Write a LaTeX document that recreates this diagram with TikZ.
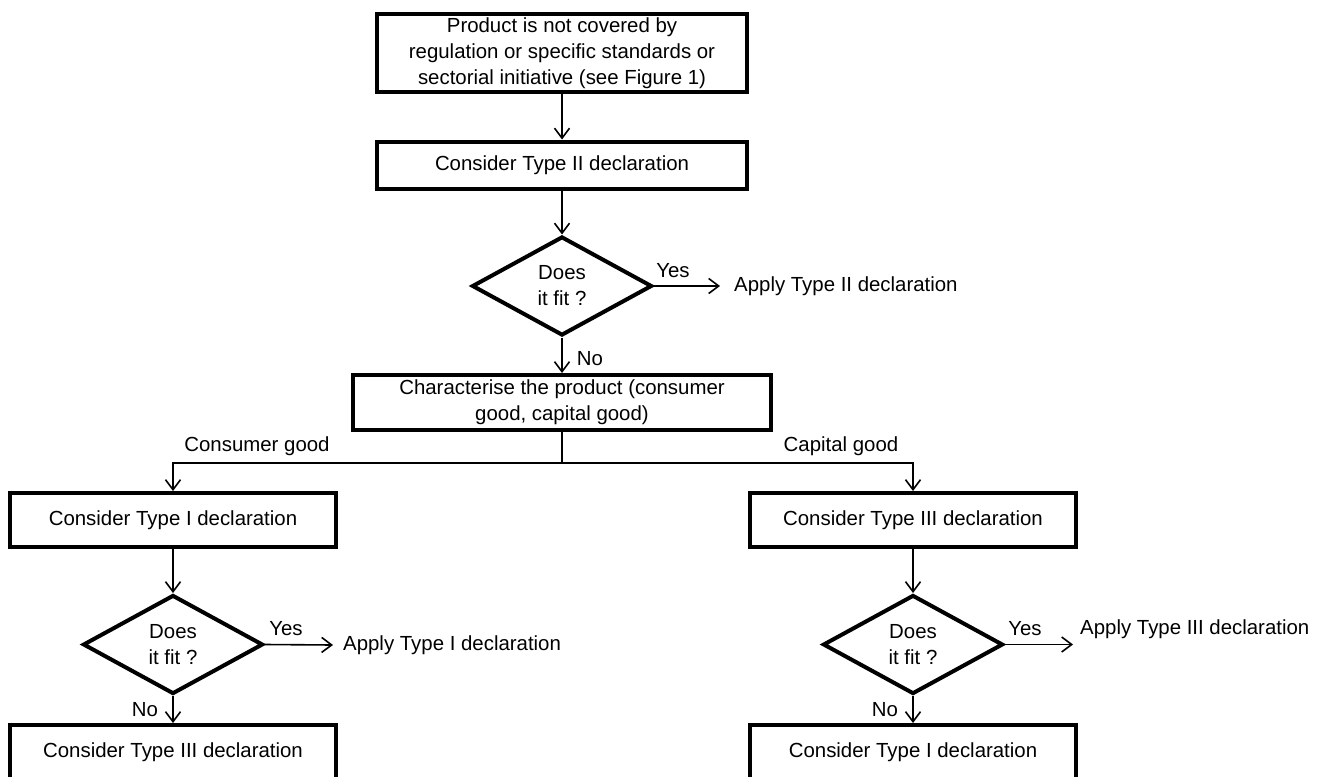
\documentclass[tikz,border=0pt]{standalone}
\usepackage{fontspec}
\setmainfont{Liberation Sans}
\usetikzlibrary{shapes.geometric,arrows.meta,calc}
\begin{document}
\begin{tikzpicture}[x=1pt,y=-1pt,
  font=\fontsize{20.4}{26}\selectfont,
  box/.style={draw,line width=4pt,align=center,inner sep=0pt},
  colbox/.style={box,minimum width=326pt,minimum height=54pt},
  dec/.style={draw,diamond,line width=4pt,align=center,inner sep=0pt,
    minimum width=180pt,minimum height=99pt,shape aspect=1.8},
  conn/.style={line width=1.6pt,-{Straight Barb[length=10pt,width=15pt,line width=1.6pt]}},
  plainline/.style={line width=1.6pt},
  lbl/.style={inner sep=0pt}
]
\useasboundingbox[fill=white] (0,0) rectangle (1324,776);

% top column
\node[box,minimum width=370pt,minimum height=78pt] (n1) at (562,53)
  {\raisebox{-3pt}{\parbox{330pt}{\centering Product is not covered by\\regulation or specific standards or\\sectorial initiative (see Figure 1)}}};
\node[box,minimum width=370pt,minimum height=47pt] (n2) at (562,165) {Consider Type II declaration};
\node[dec] (d1) at (562,286) {Does\\it fit ?};
\node[lbl,anchor=west] (a2) at (734,286) {Apply Type II declaration};
\node[box,minimum width=418pt,minimum height=55pt] (n3) at (562,402.5)
  {Characterise the product (consumer\\good, capital good)};
\coordinate (split) at (562,463);

% left column
\node[colbox] (l1) at (173,520) {Consider Type I declaration};
\node[dec] (ld) at (173,644.5) {Does\\it fit ?};
\node[lbl,anchor=west] (la) at (343,645) {Apply Type I declaration};
\node[colbox] (l2) at (173,752) {Consider Type III declaration};

% right column
\node[colbox] (r1) at (913,520) {Consider Type III declaration};
\node[dec] (rd) at (913,644.5) {Does\\it fit ?};
\node[lbl,anchor=west] (ra) at (1080,629) {Apply Type III declaration};
\coordinate (raend) at (1073,644.5);
\node[colbox] (r2) at (913,752) {Consider Type I declaration};

% connectors
\draw[conn] (n1) -- (n2);
\draw[conn] (n2) -- (d1);
\draw[conn] (d1.east) -- ([xshift=-14pt]a2.west);
\draw[conn] (d1) -- (n3);
\draw[plainline] (n3.south) -- (split);
\draw[conn] (split) -| (l1.north);
\draw[conn] (split) -| (r1.north);
\draw[conn] (l1) -- (ld);
\draw[conn] (ld.east) -- ([xshift=-10pt]la.west);
\draw[conn] (ld) -- (l2);
\draw[conn] (r1) -- (rd);
\draw[conn] (rd.east) -- (raend);
\draw[conn] (rd) -- (r2);

% labels
\node[lbl] (y1) at (673,271) {Yes};
\node[lbl] (no1) at (590,359) {No};
\node[lbl] (y2) at (286,629) {Yes};
\node[lbl] (no2) at (145,710) {No};
\node[lbl] (y3) at (1025,629) {Yes};
\node[lbl] (no3) at (885,710) {No};
\node[lbl] (cg) at (257,446) {Consumer good};
\node[lbl] (kg) at (841,446) {Capital good};
\end{tikzpicture}
\end{document}
